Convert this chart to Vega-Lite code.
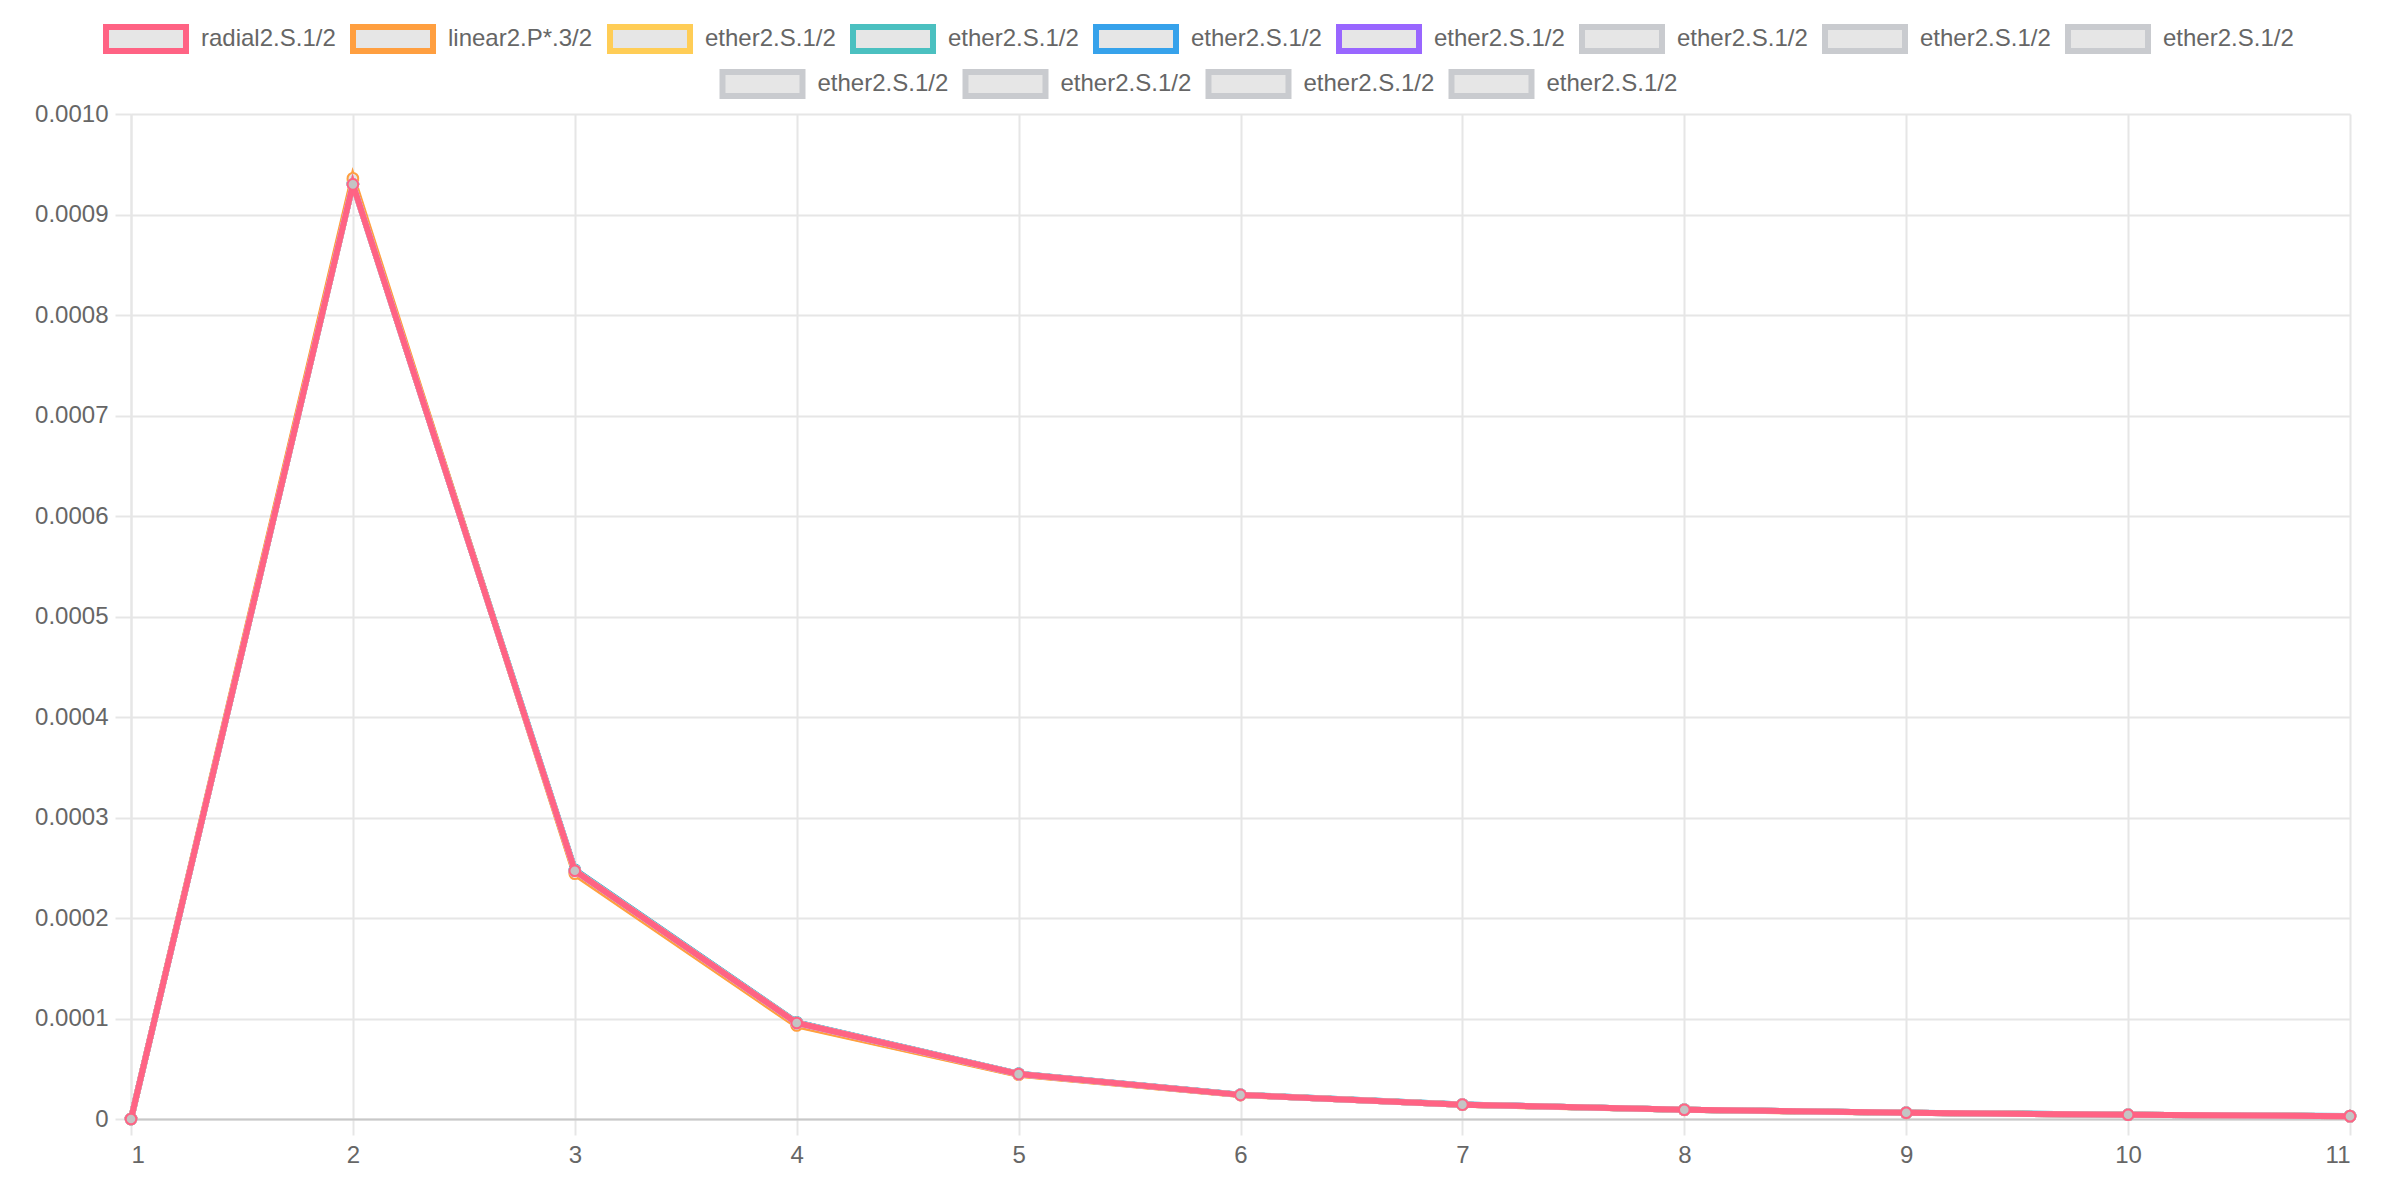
{
  "$schema": "https://vega.github.io/schema/vega-lite/v6.json",
  "width": 2219,
  "height": 1005,
  "autosize": {"type": "none"},
  "padding": {"left": 131, "top": 114, "right": 40, "bottom": 81},
  "background": "white",
  "datasets": {
    "main": [
      {"series": "s07", "x": 1, "y": 0}, {"series": "s07", "x": 2, "y": 0.000930}, {"series": "s07", "x": 3, "y": 0.000247}, {"series": "s07", "x": 4, "y": 0.0000955}, {"series": "s07", "x": 5, "y": 0.0000447}, {"series": "s07", "x": 6, "y": 0.0000240}, {"series": "s07", "x": 7, "y": 0.0000143}, {"series": "s07", "x": 8, "y": 0.0000092}, {"series": "s07", "x": 9, "y": 0.0000062}, {"series": "s07", "x": 10, "y": 0.0000042}, {"series": "s07", "x": 11, "y": 0.0000028},
      {"series": "s08", "x": 1, "y": 0}, {"series": "s08", "x": 2, "y": 0.000930}, {"series": "s08", "x": 3, "y": 0.000247}, {"series": "s08", "x": 4, "y": 0.0000955}, {"series": "s08", "x": 5, "y": 0.0000447}, {"series": "s08", "x": 6, "y": 0.0000240}, {"series": "s08", "x": 7, "y": 0.0000143}, {"series": "s08", "x": 8, "y": 0.0000092}, {"series": "s08", "x": 9, "y": 0.0000062}, {"series": "s08", "x": 10, "y": 0.0000042}, {"series": "s08", "x": 11, "y": 0.0000028},
      {"series": "s09", "x": 1, "y": 0}, {"series": "s09", "x": 2, "y": 0.000930}, {"series": "s09", "x": 3, "y": 0.000247}, {"series": "s09", "x": 4, "y": 0.0000955}, {"series": "s09", "x": 5, "y": 0.0000447}, {"series": "s09", "x": 6, "y": 0.0000240}, {"series": "s09", "x": 7, "y": 0.0000143}, {"series": "s09", "x": 8, "y": 0.0000092}, {"series": "s09", "x": 9, "y": 0.0000062}, {"series": "s09", "x": 10, "y": 0.0000042}, {"series": "s09", "x": 11, "y": 0.0000028},
      {"series": "s10", "x": 1, "y": 0}, {"series": "s10", "x": 2, "y": 0.000930}, {"series": "s10", "x": 3, "y": 0.000247}, {"series": "s10", "x": 4, "y": 0.0000955}, {"series": "s10", "x": 5, "y": 0.0000447}, {"series": "s10", "x": 6, "y": 0.0000240}, {"series": "s10", "x": 7, "y": 0.0000143}, {"series": "s10", "x": 8, "y": 0.0000092}, {"series": "s10", "x": 9, "y": 0.0000062}, {"series": "s10", "x": 10, "y": 0.0000042}, {"series": "s10", "x": 11, "y": 0.0000028},
      {"series": "s11", "x": 1, "y": 0}, {"series": "s11", "x": 2, "y": 0.000930}, {"series": "s11", "x": 3, "y": 0.000247}, {"series": "s11", "x": 4, "y": 0.0000955}, {"series": "s11", "x": 5, "y": 0.0000447}, {"series": "s11", "x": 6, "y": 0.0000240}, {"series": "s11", "x": 7, "y": 0.0000143}, {"series": "s11", "x": 8, "y": 0.0000092}, {"series": "s11", "x": 9, "y": 0.0000062}, {"series": "s11", "x": 10, "y": 0.0000042}, {"series": "s11", "x": 11, "y": 0.0000028},
      {"series": "s12", "x": 1, "y": 0}, {"series": "s12", "x": 2, "y": 0.000930}, {"series": "s12", "x": 3, "y": 0.000247}, {"series": "s12", "x": 4, "y": 0.0000955}, {"series": "s12", "x": 5, "y": 0.0000447}, {"series": "s12", "x": 6, "y": 0.0000240}, {"series": "s12", "x": 7, "y": 0.0000143}, {"series": "s12", "x": 8, "y": 0.0000092}, {"series": "s12", "x": 9, "y": 0.0000062}, {"series": "s12", "x": 10, "y": 0.0000042}, {"series": "s12", "x": 11, "y": 0.0000028},
      {"series": "s13", "x": 1, "y": 0}, {"series": "s13", "x": 2, "y": 0.000930}, {"series": "s13", "x": 3, "y": 0.000247}, {"series": "s13", "x": 4, "y": 0.0000955}, {"series": "s13", "x": 5, "y": 0.0000447}, {"series": "s13", "x": 6, "y": 0.0000240}, {"series": "s13", "x": 7, "y": 0.0000143}, {"series": "s13", "x": 8, "y": 0.0000092}, {"series": "s13", "x": 9, "y": 0.0000062}, {"series": "s13", "x": 10, "y": 0.0000042}, {"series": "s13", "x": 11, "y": 0.0000028},
      {"series": "s06", "x": 1, "y": 0}, {"series": "s06", "x": 2, "y": 0.000930}, {"series": "s06", "x": 3, "y": 0.000247}, {"series": "s06", "x": 4, "y": 0.0000955}, {"series": "s06", "x": 5, "y": 0.0000447}, {"series": "s06", "x": 6, "y": 0.0000240}, {"series": "s06", "x": 7, "y": 0.0000143}, {"series": "s06", "x": 8, "y": 0.0000092}, {"series": "s06", "x": 9, "y": 0.0000062}, {"series": "s06", "x": 10, "y": 0.0000042}, {"series": "s06", "x": 11, "y": 0.0000028},
      {"series": "s05", "x": 1, "y": 0}, {"series": "s05", "x": 2, "y": 0.000931}, {"series": "s05", "x": 3, "y": 0.000248}, {"series": "s05", "x": 4, "y": 0.0000960}, {"series": "s05", "x": 5, "y": 0.0000450}, {"series": "s05", "x": 6, "y": 0.0000241}, {"series": "s05", "x": 7, "y": 0.0000144}, {"series": "s05", "x": 8, "y": 0.0000093}, {"series": "s05", "x": 9, "y": 0.0000063}, {"series": "s05", "x": 10, "y": 0.0000043}, {"series": "s05", "x": 11, "y": 0.0000029},
      {"series": "s04", "x": 1, "y": 0}, {"series": "s04", "x": 2, "y": 0.000931}, {"series": "s04", "x": 3, "y": 0.000248}, {"series": "s04", "x": 4, "y": 0.0000962}, {"series": "s04", "x": 5, "y": 0.0000451}, {"series": "s04", "x": 6, "y": 0.0000242}, {"series": "s04", "x": 7, "y": 0.0000144}, {"series": "s04", "x": 8, "y": 0.0000093}, {"series": "s04", "x": 9, "y": 0.0000063}, {"series": "s04", "x": 10, "y": 0.0000043}, {"series": "s04", "x": 11, "y": 0.0000029},
      {"series": "s03", "x": 1, "y": 0}, {"series": "s03", "x": 2, "y": 0.000934}, {"series": "s03", "x": 3, "y": 0.000245}, {"series": "s03", "x": 4, "y": 0.0000935}, {"series": "s03", "x": 5, "y": 0.0000442}, {"series": "s03", "x": 6, "y": 0.0000239}, {"series": "s03", "x": 7, "y": 0.0000142}, {"series": "s03", "x": 8, "y": 0.0000092}, {"series": "s03", "x": 9, "y": 0.0000062}, {"series": "s03", "x": 10, "y": 0.0000042}, {"series": "s03", "x": 11, "y": 0.0000028},
      {"series": "s02", "x": 1, "y": 0}, {"series": "s02", "x": 2, "y": 0.000936}, {"series": "s02", "x": 3, "y": 0.000244}, {"series": "s02", "x": 4, "y": 0.0000930}, {"series": "s02", "x": 5, "y": 0.0000440}, {"series": "s02", "x": 6, "y": 0.0000238}, {"series": "s02", "x": 7, "y": 0.0000142}, {"series": "s02", "x": 8, "y": 0.0000091}, {"series": "s02", "x": 9, "y": 0.0000061}, {"series": "s02", "x": 10, "y": 0.0000042}, {"series": "s02", "x": 11, "y": 0.0000028},
      {"series": "s01", "x": 1, "y": 0}, {"series": "s01", "x": 2, "y": 0.000930}, {"series": "s01", "x": 3, "y": 0.000247}, {"series": "s01", "x": 4, "y": 0.0000955}, {"series": "s01", "x": 5, "y": 0.0000447}, {"series": "s01", "x": 6, "y": 0.0000240}, {"series": "s01", "x": 7, "y": 0.0000143}, {"series": "s01", "x": 8, "y": 0.0000092}, {"series": "s01", "x": 9, "y": 0.0000062}, {"series": "s01", "x": 10, "y": 0.0000042}, {"series": "s01", "x": 11, "y": 0.0000028}
    ]
  },
  "data": {"name": "main"},
  "encoding": {
    "x": {
      "field": "x", "type": "quantitative",
      "scale": {"domain": [1, 11], "nice": false, "zero": false},
      "axis": {
        "title": null, "values": [1, 2, 3, 4, 5, 6, 7, 8, 9, 10, 11], "format": "d",
        "grid": true, "gridColor": "#e6e6e6", "gridWidth": 2,
        "tickSize": 16, "tickColor": "#e6e6e6", "tickWidth": 2,
        "domainColor": "#c8c8c8", "domainWidth": 2,
        "labelFont": "Liberation Sans", "labelFontSize": 24, "labelColor": "#666666", "labelPadding": 8,
        "zindex": 0
      }
    },
    "y": {
      "field": "y", "type": "quantitative",
      "scale": {"domain": [0, 0.001], "nice": false},
      "axis": {
        "title": null,
        "values": [0, 0.0001, 0.0002, 0.0003, 0.0004, 0.0005, 0.0006, 0.0007, 0.0008, 0.0009, 0.001],
        "labelExpr": "datum.value == 0 ? '0' : format(datum.value, '.4f')",
        "grid": true, "gridColor": "#e6e6e6", "gridWidth": 2,
        "tickSize": 16, "tickColor": "#e6e6e6", "tickWidth": 2,
        "domainColor": "#e6e6e6", "domainWidth": 2,
        "labelFont": "Liberation Sans", "labelFontSize": 24, "labelColor": "#666666", "labelPadding": 7,
        "zindex": 0
      }
    }
  },
  "layer": [
    {
      "transform": [{"filter": {"field": "series", "oneOf": ["s01", "s02", "s03", "s04", "s05", "s06", "s07", "s08", "s09"]}}],
      "encoding": {
        "stroke": {
          "field": "series", "type": "nominal",
          "scale": {
            "domain": ["s01", "s02", "s03", "s04", "s05", "s06", "s07", "s08", "s09"],
            "range": ["#ff6384", "#ff9f40", "#ffcd56", "#4bc0c0", "#36a2eb", "#9966ff", "#c9cbcf", "#c9cbcf", "#c9cbcf"]
          },
          "legend": {
            "labelExpr": "datum.value == 's01' ? 'radial2.S.1/2' : datum.value == 's02' ? 'linear2.P*.3/2' : 'ether2.S.1/2'"
          }
        }
      },
      "layer": [
        {"mark": {"type": "line", "strokeWidth": 6}},
        {"mark": {"type": "point", "filled": true, "fill": "#e6e6e6", "size": 113, "strokeWidth": 2, "opacity": 1}}
      ]
    },
    {
      "transform": [{"filter": {"field": "series", "oneOf": ["s10", "s11", "s12", "s13"]}}],
      "encoding": {
        "stroke": {
          "field": "series", "type": "nominal",
          "scale": {
            "domain": ["s10", "s11", "s12", "s13"],
            "range": ["#c9cbcf", "#c9cbcf", "#c9cbcf", "#c9cbcf"]
          },
          "legend": {"labelExpr": "'ether2.S.1/2'"}
        }
      },
      "layer": [
        {"mark": {"type": "line", "strokeWidth": 6}},
        {"mark": {"type": "point", "filled": true, "fill": "#e6e6e6", "size": 113, "strokeWidth": 2, "opacity": 1}}
      ]
    },
    {
      "transform": [{"filter": {"field": "series", "equal": "s01"}}],
      "layer": [
        {"mark": {"type": "line", "strokeWidth": 6, "stroke": "#ff6384"}, "encoding": {}},
        {"mark": {"type": "point", "filled": true, "fill": "#c4c4c4", "stroke": "#ff6384", "size": 113, "strokeWidth": 2, "opacity": 1}}
      ]
    }
  ],
  "resolve": {"scale": {"stroke": "independent"}, "legend": {"stroke": "independent"}},
  "config": {
    "view": {"stroke": null},
    "legend": {
      "orient": "top",
      "direction": "horizontal",
      "title": null,
      "symbolType": "M-8,-1H-1.333V1H-8Z",
      "symbolSize": 576,
      "symbolStrokeWidth": 6,
      "symbolFillColor": "#e6e6e6",
      "symbolOpacity": 1,
      "labelFont": "Liberation Sans",
      "labelFontSize": 24,
      "labelColor": "#666666",
      "labelOffset": -16,
      "columnPadding": 5,
      "offset": 6,
      "layout": {"top": {"anchor": "middle", "direction": "vertical", "center": true, "margin": 6, "bounds": "full"}}
    }
  }
}
